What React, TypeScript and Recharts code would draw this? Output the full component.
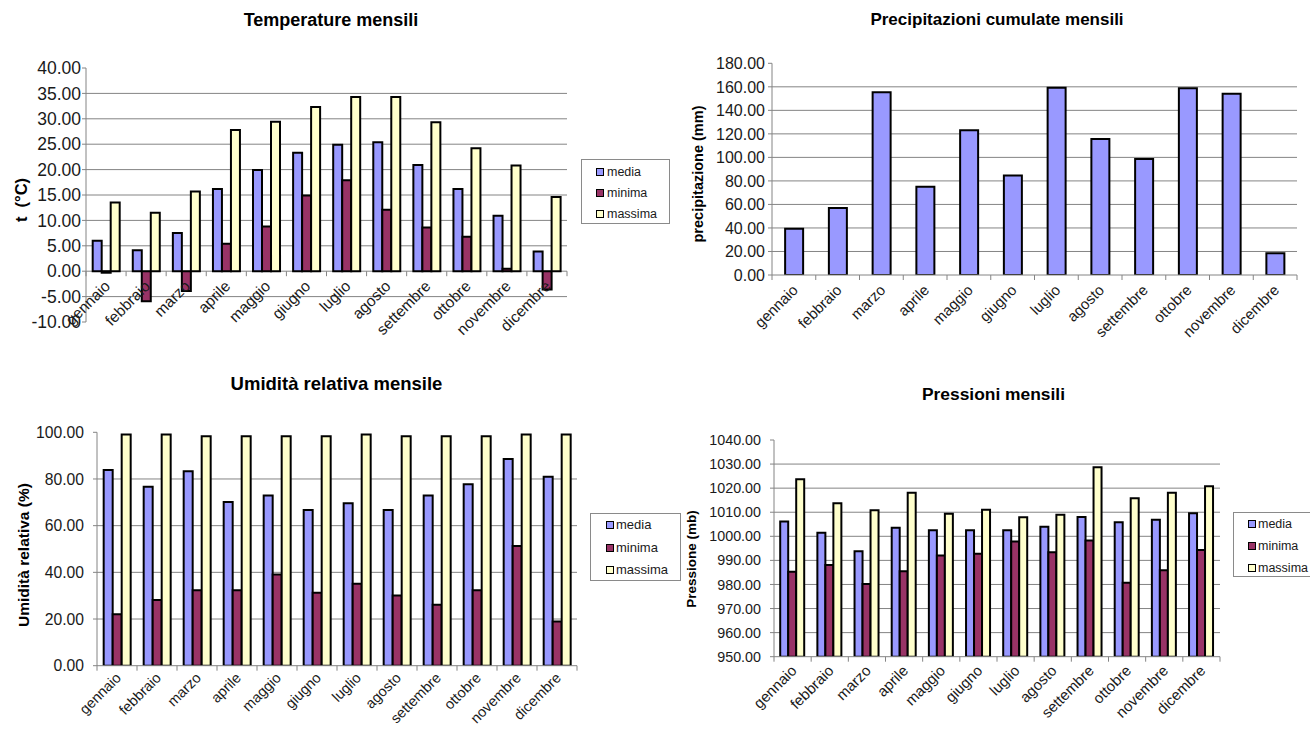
import React from 'react';
import { BarChart, Bar, XAxis, YAxis, CartesianGrid } from 'recharts';

// ---- shared categories & series ----
const MONTHS = [
  'gennaio', 'febbraio', 'marzo', 'aprile', 'maggio', 'giugno',
  'luglio', 'agosto', 'settembre', 'ottobre', 'novembre', 'dicembre',
];
const SERIES_NAMES = ['media', 'minima', 'massima'];
const SERIES_COLORS = ['#9999FF', '#993366', '#FFFFCC'];

// ---- temperature (°C) ----
const TEMP_MEDIA = [6.0, 4.1, 7.5, 16.2, 19.9, 23.3, 24.9, 25.4, 20.9, 16.2, 10.9, 3.9];
const TEMP_MINIMA = [-0.3, -5.9, -3.9, 5.4, 8.8, 14.9, 17.9, 12.1, 8.6, 6.8, 0.5, -3.6];
const TEMP_MASSIMA = [13.5, 11.5, 15.7, 27.8, 29.4, 32.3, 34.3, 34.3, 29.3, 24.2, 20.8, 14.6];
const TEMP_TICKS = [-10, -5, 0, 5, 10, 15, 20, 25, 30, 35, 40];

// ---- precipitation (mm) ----
const PRECIP = [39.4, 57.0, 155.3, 75.1, 123.0, 84.5, 159.3, 115.6, 98.6, 158.7, 154.2, 18.4];
const PRECIP_TICKS = [0, 20, 40, 60, 80, 100, 120, 140, 160, 180];

// ---- relative humidity (%) ----
const HUM_MEDIA = [83.9, 76.7, 83.3, 70.1, 72.9, 66.7, 69.6, 66.7, 72.9, 77.7, 88.6, 81.0];
const HUM_MINIMA = [22.0, 28.1, 32.3, 32.3, 39.1, 31.3, 35.1, 30.1, 26.1, 32.3, 51.3, 18.9];
const HUM_MASSIMA = [99.1, 99.1, 98.3, 98.3, 98.3, 98.3, 99.1, 98.3, 98.3, 98.3, 99.1, 99.1];
const HUM_TICKS = [0, 20, 40, 60, 80, 100];

// ---- pressure (mb) ----
const PRESS_MEDIA = [1006.1, 1001.5, 993.8, 1003.6, 1002.5, 1002.5, 1002.5, 1004.0, 1008.0, 1005.8, 1006.9, 1009.6];
const PRESS_MINIMA = [985.3, 988.1, 980.2, 985.5, 992.0, 992.8, 997.8, 993.4, 998.3, 980.7, 985.9, 994.3];
const PRESS_MASSIMA = [1023.7, 1013.7, 1010.8, 1018.1, 1009.4, 1011.0, 1007.9, 1009.0, 1028.7, 1015.8, 1018.1, 1020.8];
const PRESS_TICKS = [950, 960, 970, 980, 990, 1000, 1010, 1020, 1030, 1040];

const FONT = '"Liberation Sans", Arial, Helvetica, sans-serif';
const GRID = '#848484';
const INK = '#1a1a1a';

const tripleRows = (a: number[], b: number[], c: number[]) =>
  MONTHS.map((m, i) => ({ mese: m, media: a[i], minima: b[i], massima: c[i] }));

const tempData = tripleRows(TEMP_MEDIA, TEMP_MINIMA, TEMP_MASSIMA);
const humData = tripleRows(HUM_MEDIA, HUM_MINIMA, HUM_MASSIMA);
const pressData = tripleRows(PRESS_MEDIA, PRESS_MINIMA, PRESS_MASSIMA);
const precipData = MONTHS.map((m, i) => ({ mese: m, pioggia: PRECIP[i] }));

type Box = {
  left: number; top: number; width: number; height: number;
  plotLeft: number; plotRight: number; plotTop: number; plotBottom: number;
  yAxisWidth: number;
};

// rotated month label plus the boundary tick marks of the category axis
const makeMonthTick = (bandW: number, shiftY: number, fontSize: number, dropY: number) => (props: any) => {
  const { x, y, payload, index, visibleTicksCount } = props;
  const ay = y + shiftY;
  const last = index === (visibleTicksCount ?? MONTHS.length) - 1;
  const tx = x + 5;
  const ty = ay + dropY;
  return (
    <g>
      <line x1={x - bandW / 2} y1={ay} x2={x - bandW / 2} y2={ay + 5} stroke={GRID} strokeWidth={1} />
      {last && <line x1={x + bandW / 2} y1={ay} x2={x + bandW / 2} y2={ay + 5} stroke={GRID} strokeWidth={1} />}
      <text
        x={tx}
        y={ty}
        textAnchor="end"
        transform={`rotate(-45 ${tx} ${ty})`}
        fontFamily={FONT}
        fontSize={fontSize}
        fill={INK}
      >
        {payload.value}
      </text>
    </g>
  );
};

// horizontal gridlines, leaving out the plot's top edge and bottom edge
const makeGridLine = (top: number, bottom: number) => (p: any) => {
  if (Math.abs(p.y1 - top) < 1.5 || Math.abs(p.y1 - bottom) < 1.5) return <g key={p.key} />;
  return <line key={p.key} x1={p.x1} y1={p.y1} x2={p.x2} y2={p.y2} stroke={GRID} strokeWidth={1} />;
};

const Title = ({ text, cx, cy, size }: { text: string; cx: number; cy: number; size: number }) => (
  <div
    style={{
      position: 'absolute', left: cx - 200, top: cy - 11, width: 400, height: 22,
      lineHeight: '22px', textAlign: 'center', fontFamily: FONT, fontWeight: 'bold',
      fontSize: size, color: '#000', whiteSpace: 'nowrap',
    }}
  >
    {text}
  </div>
);

const AxisTitle = ({ text, cx, cy, size }: { text: string; cx: number; cy: number; size: number }) => (
  <div
    style={{
      position: 'absolute', left: cx - 150, top: cy - 10, width: 300, height: 20,
      lineHeight: '20px', textAlign: 'center', fontFamily: FONT, fontWeight: 'bold',
      fontSize: size, color: '#000', whiteSpace: 'pre', transform: 'rotate(-90deg)',
    }}
  >
    {text}
  </div>
);

const LegendBox = ({ left, top, width, height, iconX, textX, rows, size }: {
  left: number; top: number; width: number; height: number;
  iconX: number; textX: number; rows: number[]; size: number;
}) => (
  <div
    style={{
      position: 'absolute', left, top, width, height, border: '1px solid #8a8a8a',
      background: '#fff', boxSizing: 'border-box',
    }}
  >
    {SERIES_NAMES.map((name, i) => (
      <div key={name}>
        <div
          style={{
            position: 'absolute', left: iconX - left, top: rows[i] - top - 4.5, width: 8, height: 8,
            background: SERIES_COLORS[i], border: '1.5px solid #000', boxSizing: 'border-box',
          }}
        />
        <div
          style={{
            position: 'absolute', left: textX - left, top: rows[i] - top - 8, height: 16,
            lineHeight: '16px', fontFamily: FONT, fontSize: size, color: INK, whiteSpace: 'nowrap',
          }}
        >
          {name}
        </div>
      </div>
    ))}
  </div>
);

function MonthlyChart({
  box, data, ticks, bars, gap, tickFont, monthFont, monthDrop, tickMargin, zeroAxis,
}: {
  box: Box; data: any[]; ticks: number[]; bars: { key: string; color: string }[];
  gap: string; tickFont: number; monthFont: number; monthDrop: number; tickMargin: number; zeroAxis: boolean;
}) {
  const min = ticks[0];
  const max = ticks[ticks.length - 1];
  const relTop = box.plotTop - box.top;
  const relBottom = box.plotBottom - box.top;
  const plotH = relBottom - relTop;
  const bandW = (box.plotRight - box.plotLeft) / MONTHS.length;
  // category axis sits on the zero line when the scale goes below zero
  const shiftY = zeroAxis ? -(plotH * (0 - min)) / (max - min) : 0;
  const margin = {
    top: relTop,
    left: box.plotLeft - box.left - box.yAxisWidth,
    right: box.left + box.width - box.plotRight,
    bottom: box.height - relBottom - 1,
  };
  return (
    <div style={{ position: 'absolute', left: box.left, top: box.top }}>
      <BarChart
        width={box.width}
        height={box.height}
        data={data}
        margin={margin}
        barCategoryGap={gap}
        barGap={0}
      >
        <CartesianGrid vertical={false} horizontal={makeGridLine(relTop, relBottom)} />
        <XAxis
          dataKey="mese"
          height={1}
          interval={0}
          tickSize={0}
          tickMargin={0}
          tickLine={false}
          axisLine={zeroAxis ? false : { stroke: GRID, strokeWidth: 1 }}
          tick={makeMonthTick(bandW, shiftY, monthFont, monthDrop)}
        />
        <YAxis
          width={box.yAxisWidth}
          type="number"
          domain={[min, max]}
          ticks={ticks}
          interval={0}
          allowDataOverflow
          tickSize={4}
          tickMargin={tickMargin}
          tickLine={{ stroke: GRID }}
          axisLine={{ stroke: GRID, strokeWidth: 1 }}
          tick={{ fontFamily: FONT, fontSize: tickFont, fill: INK }}
          tickFormatter={(v: number) => v.toFixed(2)}
        />
        {bars.map((b) => (
          <Bar
            key={b.key}
            dataKey={b.key}
            fill={b.color}
            stroke="#000"
            strokeWidth={2}
            isAnimationActive={false}
          />
        ))}
      </BarChart>
    </div>
  );
}

const TRIPLE_BARS = [
  { key: 'media', color: SERIES_COLORS[0] },
  { key: 'minima', color: SERIES_COLORS[1] },
  { key: 'massima', color: SERIES_COLORS[2] },
];

const TEMP_BOX: Box = { left: 0, top: 0, width: 690, height: 350, plotLeft: 86, plotRight: 567, plotTop: 68, plotBottom: 322, yAxisWidth: 60 };
const PRECIP_BOX: Box = { left: 690, top: 0, width: 620, height: 350, plotLeft: 772, plotRight: 1297, plotTop: 63.3, plotBottom: 275, yAxisWidth: 60 };
const HUM_BOX: Box = { left: 0, top: 365, width: 690, height: 366, plotLeft: 97, plotRight: 577, plotTop: 432.3, plotBottom: 665.7, yAxisWidth: 70 };
const PRESS_BOX: Box = { left: 690, top: 365, width: 620, height: 366, plotLeft: 774, plotRight: 1220, plotTop: 440, plotBottom: 656.7, yAxisWidth: 70 };

export default function App() {
  return (
    <div
      style={{
        position: 'absolute', left: 0, top: 0, width: 1310, height: 731,
        background: '#fff', overflow: 'hidden',
      }}
    >
      {/* Temperature */}
      <MonthlyChart
        box={TEMP_BOX} data={tempData} ticks={TEMP_TICKS} bars={TRIPLE_BARS}
        gap="16.7%" tickFont={17.5} monthFont={15.5} monthDrop={16} tickMargin={1} zeroAxis
      />
      <Title text="Temperature mensili" cx={331} cy={20} size={18} />
      <AxisTitle text="t  (°C)" cx={21} cy={200} size={16.5} />
      <LegendBox left={581} top={159} width={89} height={65} iconX={595} textX={606} rows={[171, 192, 213]} size={12.5} />

      {/* Precipitation */}
      <MonthlyChart
        box={PRECIP_BOX} data={precipData} ticks={PRECIP_TICKS}
        bars={[{ key: 'pioggia', color: SERIES_COLORS[0] }]}
        gap="30%" tickFont={16} monthFont={15} monthDrop={16} tickMargin={3} zeroAxis={false}
      />
      <Title text="Precipitazioni cumulate mensili" cx={997} cy={19.5} size={17} />
      <AxisTitle text="precipitazione (mm)" cx={697.5} cy={173.5} size={14.5} />

      {/* Relative humidity */}
      <MonthlyChart
        box={HUM_BOX} data={humData} ticks={HUM_TICKS} bars={TRIPLE_BARS}
        gap="16.7%" tickFont={15.7} monthFont={14.5} monthDrop={13} tickMargin={9} zeroAxis={false}
      />
      <Title text="Umidità relativa mensile" cx={336.5} cy={383.5} size={18.5} />
      <AxisTitle text="Umidità relativa (%)" cx={24} cy={554.5} size={15.5} />
      <LegendBox left={590} top={513} width={91} height={68} iconX={605} textX={615} rows={[524, 547, 569]} size={13} />

      {/* Pressure */}
      <MonthlyChart
        box={PRESS_BOX} data={pressData} ticks={PRESS_TICKS} bars={TRIPLE_BARS}
        gap="16.7%" tickFont={14.3} monthFont={15} monthDrop={15} tickMargin={9} zeroAxis={false}
      />
      <Title text="Pressioni mensili" cx={993.5} cy={394} size={17.4} />
      <AxisTitle text="Pressione (mb)" cx={692} cy={559} size={13.5} />
      <LegendBox left={1233} top={512} width={90} height={65} iconX={1247} textX={1257} rows={[523, 545, 567]} size={12.5} />
    </div>
  );
}
